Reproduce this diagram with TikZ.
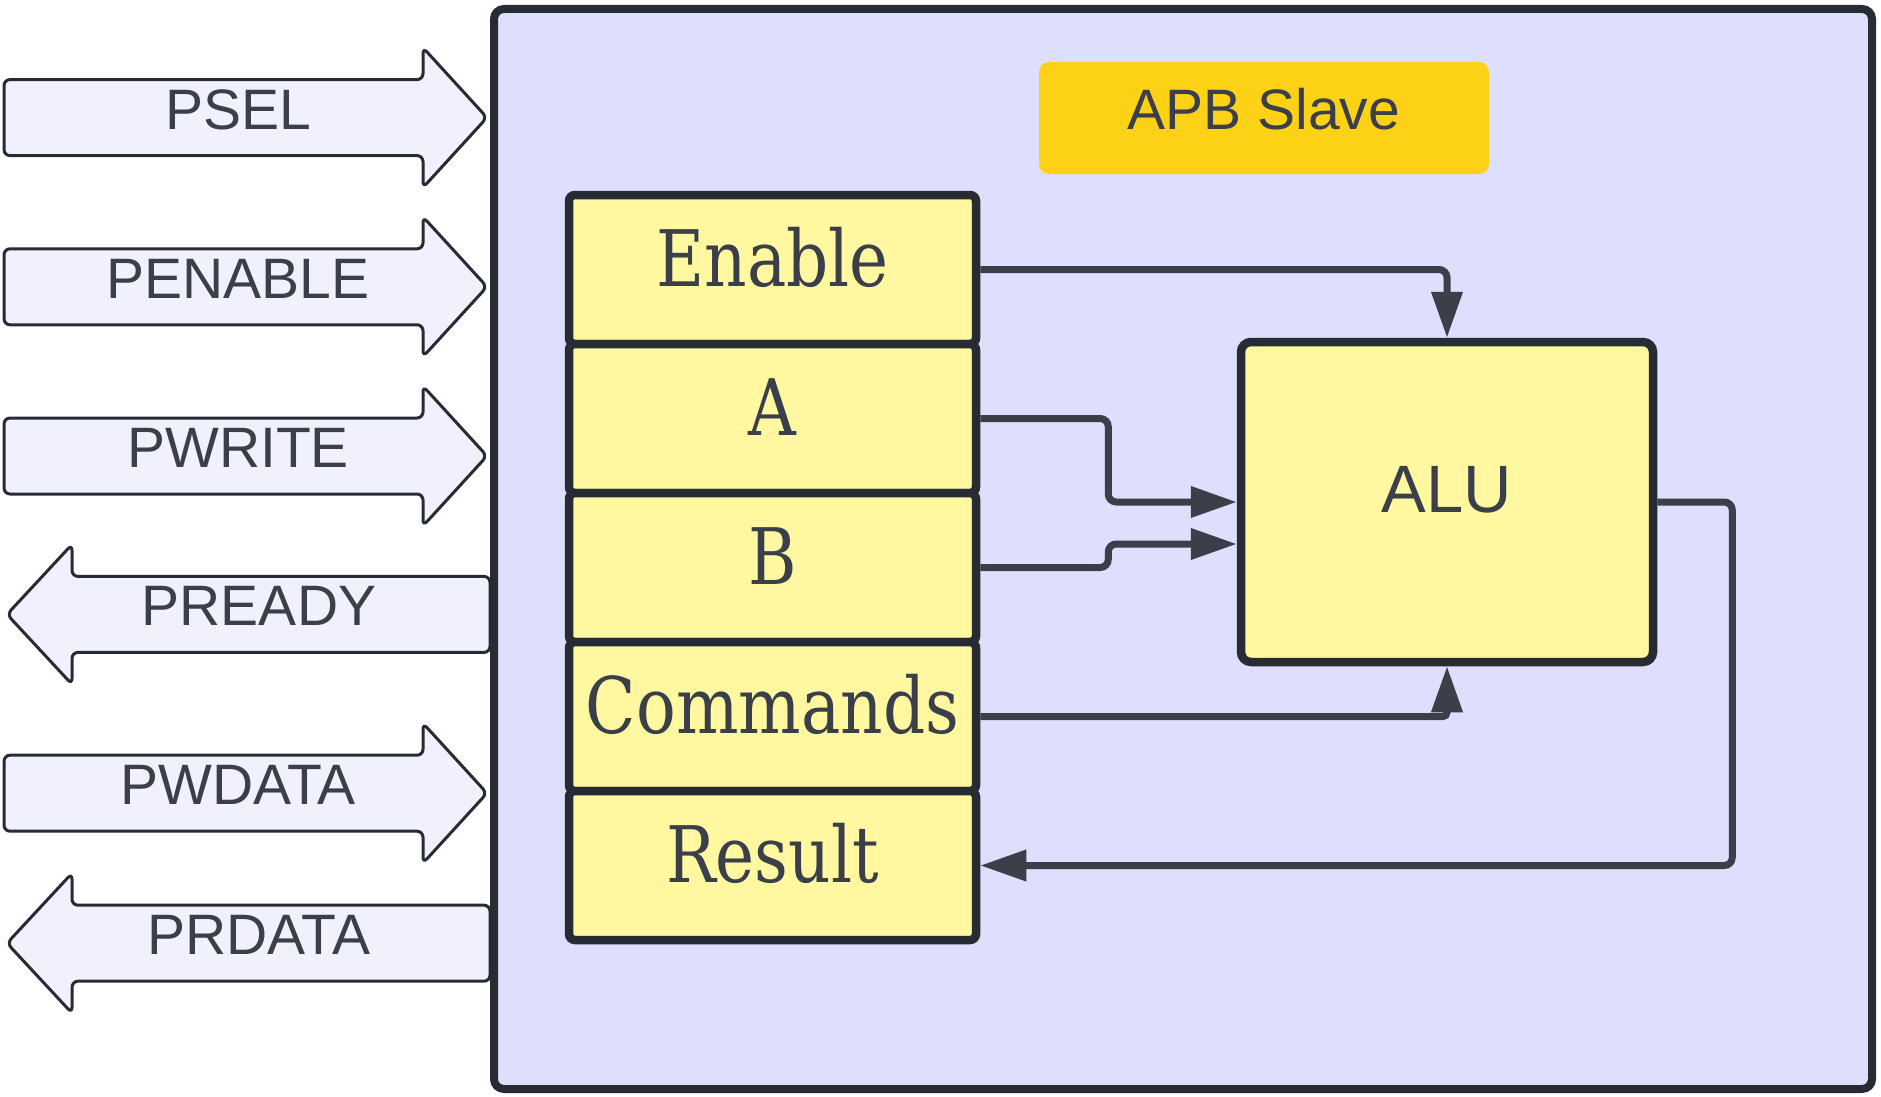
\documentclass[tikz,border=0pt]{standalone}
\usepackage{fontspec}
\setmainfont{Liberation Sans}
\newfontfamily\regfont[FakeStretch=0.94]{DejaVu Serif Condensed}
\usetikzlibrary{arrows.meta,calc}
\definecolor{frame}{HTML}{272B33}
\definecolor{slavebg}{HTML}{DEDEFD}
\definecolor{sigfill}{HTML}{F1F1FE}
\definecolor{regfill}{HTML}{FFF8A0}
\definecolor{apbyellow}{HTML}{FCD116}
\definecolor{txt}{HTML}{3A3F4A}
\definecolor{wirec}{HTML}{3A3F4A}
\tikzset{
  sigshape/.style={draw=frame, line width=3pt, fill=sigfill, rounded corners=6pt},
  sigtext/.style={anchor=base, inner sep=0pt, text=txt, font=\fontsize{57}{68}\selectfont},
  regbox/.style={draw=frame, line width=8.5pt, fill=regfill, rounded corners=6pt,
    minimum width=407pt, minimum height=149pt, inner sep=0pt,
    text height=33pt, text depth=0pt, text=txt, font=\regfont\fontsize{78}{90}\selectfont},
  alubox/.style={draw=frame, line width=8.5pt, fill=regfill, rounded corners=10pt,
    minimum width=412pt, minimum height=320pt, inner sep=0pt,
    text height=21pt, text depth=0pt, text=txt, font=\fontsize{67}{80}\selectfont},
  apbbox/.style={fill=apbyellow, rounded corners=10pt, minimum width=450pt, minimum height=112pt,
    inner sep=0pt, text height=22.6pt, text depth=0pt, text=txt, font=\fontsize{57}{68}\selectfont},
  wire/.style={draw=wirec, line width=7pt, rounded corners=8pt,
    -{Triangle[length=46pt,width=30pt]}},
}
\newcommand\sigR[3]{%
  \draw[sigshape] (4,#1-38) -- (423,#1-38) -- (423,#1-70) -- (487,#1) -- (423,#1+70) -- (423,#1+38) -- (4,#1+38) -- cycle;
  \node[sigtext] (#2) at (238,#1+11.7) {#3};}
\newcommand\sigL[3]{%
  \draw[sigshape] (7,#1) -- (72,#1-70) -- (72,#1-38) -- (490,#1-38) -- (490,#1+38) -- (72,#1+38) -- (72,#1+70) -- cycle;
  \node[sigtext] (#2) at (259,#1+11) {#3};}
\begin{document}
\begin{tikzpicture}[x=1pt,y=-1pt]
\useasboundingbox (0,0) rectangle (1881,1097);
% slave frame
\node[draw=frame, line width=8pt, fill=slavebg, rounded corners=10pt,
  minimum width=1378pt, minimum height=1080pt, inner sep=0pt] (slave) at (1183,549) {};
% signals
\sigR{117.6}{psel}{PSEL}
\sigR{286.8}{penable}{PENABLE}
\sigR{456}{pwrite}{PWRITE}
\sigL{614.4}{pready}{PREADY}
\sigR{793.2}{pwdata}{PWDATA}
\sigL{943.2}{prdata}{PRDATA}
% title
\node[apbbox] (apb) at (1264,118) {APB Slave};
% registers
\node[regbox] (en)  at (772.5,269.5) {Enable};
\node[regbox] (a)   at (772.5,418.5) {A};
\node[regbox] (b)   at (772.5,567.5) {B};
\node[regbox] (cmd) at (772.5,716.5) {Commands};
\node[regbox] (res) at (772.5,865.5) {Result};
% ALU
\node[alubox] (alu) at (1447,502) {ALU};
% wires
\draw[wire] (en.east) -| (alu.north);
\draw[wire] (a.east) -- ++(128,0) |- (alu.west);
\draw[wire] (b.east) -- ++(128,0) |- ($(alu.west)+(0,42)$);
\draw[wire, rounded corners=4pt] (cmd.east) -| (alu.south);
\draw[wire] (alu.east) -- ++(75,0) |- (res.east);
\end{tikzpicture}
\end{document}
